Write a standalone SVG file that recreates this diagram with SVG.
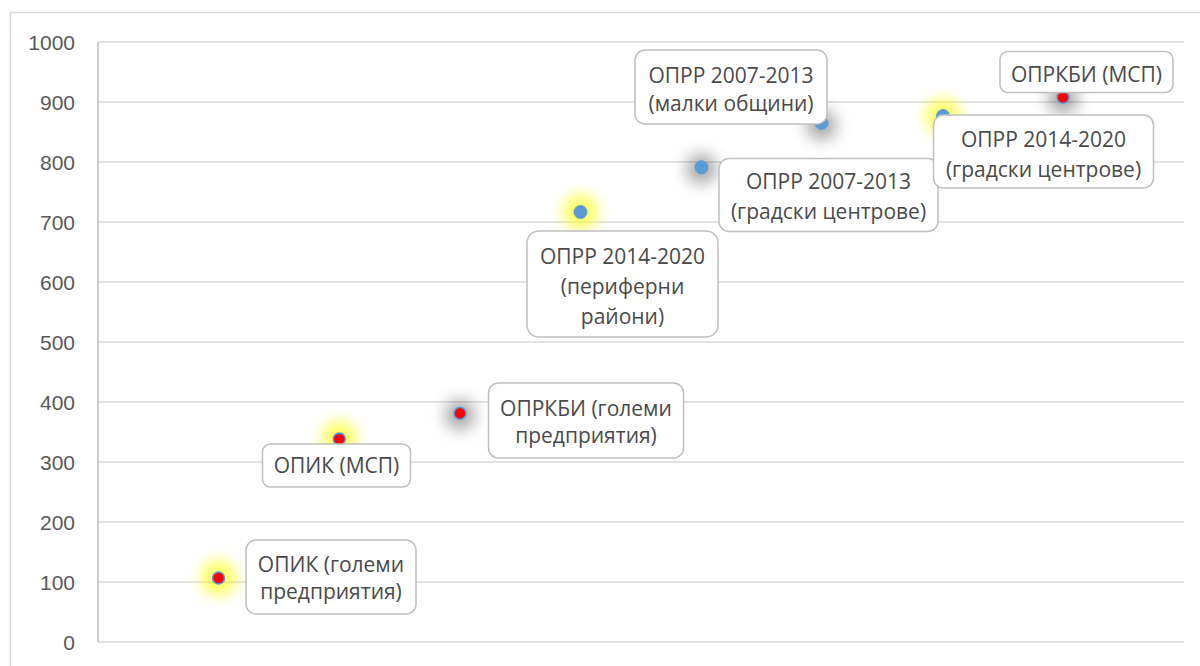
<svg xmlns="http://www.w3.org/2000/svg" width="1200" height="666" viewBox="0 0 1200 666">
  <defs>
    <filter id="blurY" x="-100%" y="-100%" width="300%" height="300%">
      <feGaussianBlur stdDeviation="7"/>
    </filter>
    <filter id="blurG" x="-100%" y="-100%" width="300%" height="300%">
      <feGaussianBlur stdDeviation="8"/>
    </filter>
  </defs>
  <style>
    .grid { stroke: #D9D9D9; stroke-width: 1.5; fill: none; }
    .axis { stroke: #BFBFBF; stroke-width: 1.5; fill: none; }
    .ylab { font-family: "Liberation Sans", Arial, sans-serif; font-size: 21px; fill: #595959; text-anchor: end; }
    .lbl rect { fill: #FFFFFF; stroke: #BFBFBF; stroke-width: 1.5; }
    .lbl text { font-family: "Open Sans", "Liberation Sans", sans-serif; font-size: 21px; fill: #4A4A4A; text-anchor: middle; }
    .glowY { fill: #FFFF00; opacity: 0.6; filter: url(#blurY); }
    .glowG { fill: #000000; opacity: 0.35; filter: url(#blurG); }
    .red { fill: #FF0000; stroke: #5B9BD5; stroke-width: 1.5; }
    .blue { fill: #5B9BD5; stroke: #5B9BD5; stroke-width: 1; }
  </style>
  <rect x="0" y="0" width="1200" height="666" fill="#FFFFFF"/>
  <path d="M10.5 680 V12.5 H1210" stroke="#D9D9D9" stroke-width="1.5" fill="none"/>

  <g id="grid">
    <line class="grid" x1="98" y1="42" x2="1184" y2="42"/>
    <line class="grid" x1="98" y1="102" x2="1184" y2="102"/>
    <line class="grid" x1="98" y1="162" x2="1184" y2="162"/>
    <line class="grid" x1="98" y1="222" x2="1184" y2="222"/>
    <line class="grid" x1="98" y1="282" x2="1184" y2="282"/>
    <line class="grid" x1="98" y1="342" x2="1184" y2="342"/>
    <line class="grid" x1="98" y1="402" x2="1184" y2="402"/>
    <line class="grid" x1="98" y1="462" x2="1184" y2="462"/>
    <line class="grid" x1="98" y1="522" x2="1184" y2="522"/>
    <line class="grid" x1="98" y1="582" x2="1184" y2="582"/>
    <line class="grid" x1="98" y1="642" x2="1184" y2="642"/>
    <line class="axis" x1="98" y1="42" x2="98" y2="642"/>
  </g>

  <g id="yaxis">
    <text class="ylab" x="75" y="50">1000</text>
    <text class="ylab" x="75" y="110">900</text>
    <text class="ylab" x="75" y="170">800</text>
    <text class="ylab" x="75" y="230">700</text>
    <text class="ylab" x="75" y="290">600</text>
    <text class="ylab" x="75" y="350">500</text>
    <text class="ylab" x="75" y="410">400</text>
    <text class="ylab" x="75" y="470">300</text>
    <text class="ylab" x="75" y="530">200</text>
    <text class="ylab" x="75" y="590">100</text>
    <text class="ylab" x="75" y="650">0</text>
  </g>

  <g id="p1"><circle class="glowY" cx="218.5" cy="578" r="18"/><circle class="red" cx="218.5" cy="578" r="6"/></g>
  <g id="p2"><circle class="glowY" cx="339.3" cy="439" r="18"/><circle class="red" cx="339.3" cy="439" r="6"/></g>
  <g id="p3"><circle class="glowG" cx="460" cy="415" r="15"/><circle class="red" cx="460" cy="413.3" r="6"/></g>
  <g id="p4"><circle class="glowY" cx="580.5" cy="212" r="18"/><circle class="blue" cx="580.5" cy="212" r="6.5"/></g>
  <g id="p5"><circle class="glowG" cx="701.5" cy="169" r="15"/><circle class="blue" cx="701.5" cy="167.3" r="6.5"/></g>
  <g id="p6"><circle class="glowG" cx="821.5" cy="125" r="15"/><circle class="blue" cx="821.5" cy="123" r="6.5"/></g>
  <g id="p7"><circle class="glowY" cx="943" cy="116" r="18"/><circle class="blue" cx="943" cy="116" r="6.5"/></g>
  <g id="p8"><circle class="glowG" cx="1063" cy="99" r="15"/><circle class="red" cx="1063" cy="97.3" r="6"/></g>

  <g id="l1" class="lbl">
    <rect x="246" y="540" width="170" height="74" rx="10"/>
    <text x="331" y="571.5">ОПИК (големи</text>
    <text x="331" y="598.5">предприятия)</text>
  </g>
  <g id="l2" class="lbl">
    <rect x="262.5" y="444" width="148" height="43" rx="8"/>
    <text x="336.5" y="473">ОПИК (МСП)</text>
  </g>
  <g id="l3" class="lbl">
    <rect x="488.5" y="383" width="195" height="75" rx="10"/>
    <text x="586" y="416">ОПРКБИ (големи</text>
    <text x="586" y="443">предприятия)</text>
  </g>
  <g id="l4" class="lbl">
    <rect x="527" y="231" width="191" height="106" rx="12"/>
    <text x="622.5" y="264">ОПРР 2014-2020</text>
    <text x="622.5" y="294">(периферни</text>
    <text x="622.5" y="324">райони)</text>
  </g>
  <g id="l5" class="lbl">
    <rect x="719" y="158.5" width="219" height="73" rx="10"/>
    <text x="828.5" y="188.5">ОПРР 2007-2013</text>
    <text x="828.5" y="219">(градски центрове)</text>
  </g>
  <g id="l6" class="lbl">
    <rect x="635" y="50" width="192" height="74" rx="10"/>
    <text x="731" y="83">ОПРР 2007-2013</text>
    <text x="731" y="110.5">(малки общини)</text>
  </g>
  <g id="l7" class="lbl">
    <rect x="933.5" y="115" width="220" height="73" rx="10"/>
    <text x="1043.5" y="146.5">ОПРР 2014-2020</text>
    <text x="1043.5" y="177">(градски центрове)</text>
  </g>
  <g id="l8" class="lbl">
    <rect x="1000" y="51.5" width="173" height="41" rx="8"/>
    <text x="1086.5" y="82">ОПРКБИ (МСП)</text>
  </g>
</svg>
